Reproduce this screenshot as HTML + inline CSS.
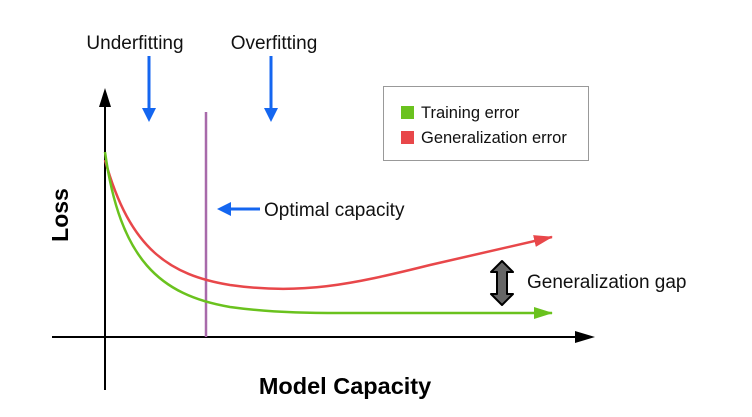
<!DOCTYPE html>
<html><head><style>
body{margin:0;background:#fff;}
svg{display:block;font-family:"Liberation Sans",Arial,sans-serif;}
</style></head><body>
<svg width="752" height="417" viewBox="0 0 752 417">
<defs>
<marker id="ar" markerWidth="20" markerHeight="12" refX="18" refY="6" orient="auto" markerUnits="userSpaceOnUse"><path d="M0,0 L19,6 L0,12z" fill="#e8474a"/></marker>
<marker id="ag" markerWidth="20" markerHeight="12" refX="18" refY="6" orient="auto" markerUnits="userSpaceOnUse"><path d="M0,0 L19,6 L0,12z" fill="#6ac21e"/></marker>
</defs>
<rect width="752" height="417" fill="#fff"/>
<text x="135" y="49" font-size="19" text-anchor="middle" fill="#111">Underfitting</text>
<text x="274" y="49" font-size="19" text-anchor="middle" fill="#111">Overfitting</text>
<line x1="149" y1="56" x2="149" y2="110" stroke="#1466f0" stroke-width="3"/>
<path d="M142,108 L156,108 L149,122z" fill="#1466f0"/>
<line x1="271" y1="56" x2="271" y2="110" stroke="#1466f0" stroke-width="3"/>
<path d="M264,108 L278,108 L271,122z" fill="#1466f0"/>
<line x1="105" y1="390" x2="105" y2="102" stroke="#000" stroke-width="2"/>
<path d="M99,107 L111,107 L105,88z" fill="#000"/>
<line x1="52" y1="337" x2="580" y2="337" stroke="#000" stroke-width="2"/>
<path d="M575,331 L575,343 L595,337z" fill="#000"/>
<line x1="206" y1="112" x2="206" y2="337" stroke="#a86aaa" stroke-width="2.5"/>
<path d="M105,160 C130,250 170,275 230,285 C300,295 350,285 430,265 L552,237" fill="none" stroke="#e8474a" stroke-width="2.5" marker-end="url(#ar)"/>
<path d="M105,152 C120,260 160,295 230,307 C280,314 330,313 360,313 L552,313" fill="none" stroke="#6ac21e" stroke-width="2.5" marker-end="url(#ag)"/>
<line x1="228" y1="209" x2="260" y2="209" stroke="#1466f0" stroke-width="3"/>
<path d="M231,202 L231,216 L217,209z" fill="#1466f0"/>
<text x="264" y="216" font-size="19" fill="#111">Optimal capacity</text>
<path d="M502,261 L513,272 L507,272 L507,294 L513,294 L502,305 L491,294 L497,294 L497,272 L491,272z" fill="#666" stroke="#000" stroke-width="2" stroke-linejoin="round"/>
<text x="527" y="288" font-size="19" fill="#111">Generalization gap</text>
<rect x="383.5" y="86.5" width="205" height="74" fill="#fff" stroke="#999" stroke-width="1"/>
<rect x="401" y="106" width="13" height="13" fill="#6ac21e"/>
<text x="421" y="118" font-size="16.5" fill="#111">Training error</text>
<rect x="401" y="131" width="13" height="13" fill="#e8474a"/>
<text x="421" y="143" font-size="16.5" fill="#111">Generalization error</text>
<text x="345" y="394" font-size="23.5" font-weight="bold" text-anchor="middle" fill="#000">Model Capacity</text>
<text transform="translate(68,215) rotate(-90)" font-size="23" font-weight="bold" text-anchor="middle" fill="#000">Loss</text>
</svg>
</body></html>
